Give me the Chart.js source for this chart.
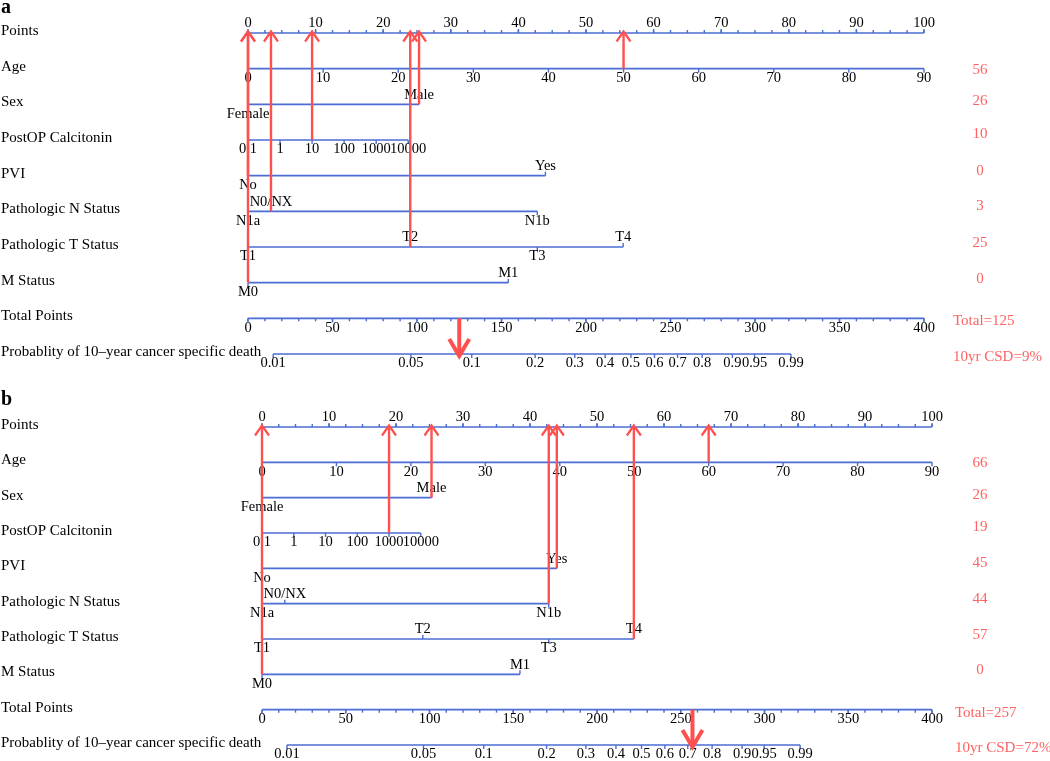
<!DOCTYPE html>
<html>
<head>
<meta charset="utf-8">
<script src="https://cdn.jsdelivr.net/npm/chart.js@4.4.0/dist/chart.umd.min.js"></script>
<style>
  body { margin: 0; background: #fff; }
  #wrap { position: relative; width: 1050px; height: 761px; }
  canvas { position: absolute; left: 0; }
</style>
</head>
<body>
<div id="wrap">
  <canvas id="chartA" width="1050" height="390" style="top:0"></canvas>
  <canvas id="chartB" width="1050" height="371" style="top:390px"></canvas>
</div>
<script>
// ---- nomogram scales ----
const rowNames = ['Points', 'Age', 'Sex', 'PostOP Calcitonin', 'PVI', 'Pathologic N Status',
  'Pathologic T Status', 'M Status', 'Total Points', 'Probablity of 10\u2013year cancer specific death'];

const pointTicks = [0, 10, 20, 30, 40, 50, 60, 70, 80, 90, 100];
const ageTicks = [0, 10, 20, 30, 40, 50, 60, 70, 80, 90];
const sexLevels = ['Female', 'Male'];
const sexPoints = [0, 25.3];
const calcTicks = [0.1, 1, 10, 100, 1000, 10000];
const calcTickLabels = ['0.1', '1', '10', '100', '1000', '10000'];
const calcPointsPerDecade = 4.74;
const pviLevels = ['No', 'Yes'];
const pviPoints = [0, 44];
const nLevels = ['N1a', 'N0/NX', 'N1b'];
const nPoints = [0, 3.4, 42.8];
const tLevels = ['T1', 'T2', 'T3', 'T4'];
const tPoints = [0, 24, 42.8, 55.5];
const mLevels = ['M0', 'M1'];
const mPoints = [0, 38.5];
const totalTicks = [0, 50, 100, 150, 200, 250, 300, 350, 400];
const probTicks = [0.01, 0.05, 0.1, 0.2, 0.3, 0.4, 0.5, 0.6, 0.7, 0.8, 0.9, 0.95, 0.99];
const probTickLabels = ['0.01', '0.05', '0.1', '0.2', '0.3', '0.4', '0.5', '0.6', '0.7', '0.8', '0.9', '0.95', '0.99'];
const probTotalAtFirst = 14.9;   // total points where prob = 0.01
const probPointsPerUnit = 50;    // total points per cloglog unit

// ---- the two example patients ----
const caseAValues = [50, 'Male', 10, 'No', 'N0/NX', 'T2', 'M0'];
const caseAScores = ['56', '26', '10', '0', '3', '25', '0'];
const caseATotal = 125;
const caseALabels = ['Total=125', '10yr CSD=9%'];

const caseBValues = [60, 'Male', 1000, 'Yes', 'N1b', 'T4', 'M0'];
const caseBScores = ['66', '26', '19', '45', '44', '57', '0'];
const caseBTotal = 257;
const caseBLabels = ['Total=257', '10yr CSD=72%'];

// label sides for the categorical rows
const sexSides = ['below', 'above'];
const pviSides = ['below', 'above'];
const nSides = ['below', 'above', 'below'];
const tSides = ['below', 'above', 'below', 'above'];
const mSides = ['below', 'above'];

const BLUE = '#4a6cd4';
const RED = '#ff5050';
const RED_TEXT = '#ff6262';
const FONT = '"Liberation Serif", "DejaVu Serif", serif';

function calcPts(v) { return (Math.log10(v) - Math.log10(calcTicks[0])) * calcPointsPerDecade; }
function cll(p) { return Math.log(-Math.log(1 - p)); }
function probTotal(p) { return probTotalAtFirst + probPointsPerUnit * (cll(p) - cll(probTicks[0])); }
function levelPts(levels, pts, name) { return pts[levels.indexOf(name)]; }

function steps(from, to, by) {
  const out = [];
  for (let v = from; v <= to + 1e-9; v += by) out.push(v);
  return out;
}

function levelTicks(levels, pts, sides) {
  return levels.map((l, i) => ({ v: pts[i], label: l, side: sides[i] }));
}

function buildRows() {
  return [
    { axis: 'x', ticks: pointTicks.map(v => ({ v, label: String(v), side: 'above' })), minor: steps(0, 100, 2.5), minorSide: 'above' },
    { axis: 'xAge', ticks: ageTicks.map(v => ({ v, label: String(v), side: 'below' })) },
    { axis: 'x', ticks: levelTicks(sexLevels, sexPoints, sexSides) },
    { axis: 'x', ticks: calcTicks.map((v, i) => ({ v: calcPts(v), label: calcTickLabels[i], side: 'below' })) },
    { axis: 'x', ticks: levelTicks(pviLevels, pviPoints, pviSides) },
    { axis: 'x', ticks: levelTicks(nLevels, nPoints, nSides) },
    { axis: 'x', ticks: levelTicks(tLevels, tPoints, tSides) },
    { axis: 'x', ticks: levelTicks(mLevels, mPoints, mSides) },
    { axis: 'xTot', ticks: totalTicks.map(v => ({ v, label: String(v), side: 'below' })), minor: steps(0, 400, 10), minorSide: 'below' },
    { axis: 'xTot', ticks: probTicks.map((p, i) => ({ v: probTotal(p), label: probTickLabels[i], side: 'below' })) }
  ];
}

function rowDatasets(rows) {
  return rows.map((r, i) => {
    const vs = r.ticks.map(t => t.v);
    return {
      data: [{ x: Math.min(...vs), y: i }, { x: Math.max(...vs), y: i }],
      xAxisID: r.axis,
      borderColor: BLUE,
      borderWidth: 1.6,
      showLine: true, pointRadius: 0, clip: false, borderCapStyle: 'butt'
    };
  });
}

function arrowDatasets(vals, total) {
  const picks = [
    { axis: 'xAge', v: vals[0] },
    { axis: 'x', v: levelPts(sexLevels, sexPoints, vals[1]) },
    { axis: 'x', v: calcPts(vals[2]) },
    { axis: 'x', v: levelPts(pviLevels, pviPoints, vals[3]) },
    { axis: 'x', v: levelPts(nLevels, nPoints, vals[4]) },
    { axis: 'x', v: levelPts(tLevels, tPoints, vals[5]) },
    { axis: 'x', v: levelPts(mLevels, mPoints, vals[6]) }
  ];
  const list = picks.map((p, i) => ({
    data: [{ x: p.v, y: i + 1 }, { x: p.v, y: 0 }],
    xAxisID: p.axis,
    borderColor: RED, borderWidth: 2.4,
    showLine: true, pointRadius: 0, clip: false, borderCapStyle: 'butt',
    arrow: 'small'
  }));
  list.push({
    data: [{ x: total, y: 8 }, { x: total, y: 9 }],
    xAxisID: 'xTot',
    borderColor: RED, borderWidth: 4,
    showLine: true, pointRadius: 0, clip: false, borderCapStyle: 'butt',
    arrow: 'big'
  });
  return list;
}

// offsets of the red score column relative to each row
const scoreOffsets = [1, -3, -6, -5, -5, -4, -4];

function nomogramPlugin(cfg, rows) {
  return {
    id: 'nomogram',
    beforeDatasetsDraw(chart) {
      const ctx = chart.ctx;
      const ys = chart.scales.y;
      ctx.save();
      ctx.fillStyle = '#000';
      ctx.font = 'bold 20px ' + FONT;
      ctx.textAlign = 'left';
      ctx.textBaseline = 'alphabetic';
      ctx.fillText(cfg.letter, 1, cfg.letterY);

      ctx.font = '15px ' + FONT;
      ctx.textBaseline = 'middle';
      rowNames.forEach((name, i) => ctx.fillText(name, 1, ys.getPixelForValue(i) - 2));

      ctx.strokeStyle = BLUE;
      ctx.lineWidth = 1.4;
      ctx.textAlign = 'center';
      ctx.font = '14.5px ' + FONT;
      rows.forEach((r, i) => {
        const sc = chart.scales[r.axis];
        const y = ys.getPixelForValue(i);
        (r.minor || []).forEach(v => {
          const x = sc.getPixelForValue(v);
          const d = r.minorSide === 'above' ? -3 : 3;
          ctx.beginPath(); ctx.moveTo(x, y); ctx.lineTo(x, y + d); ctx.stroke();
        });
        r.ticks.forEach(t => {
          const x = sc.getPixelForValue(t.v);
          const d = t.side === 'above' ? -1 : 1;
          ctx.beginPath(); ctx.moveTo(x, y); ctx.lineTo(x, y + d * 4); ctx.stroke();
          ctx.fillText(t.label, x, y + d * 9.5);
        });
      });
      ctx.restore();
    },
    afterDatasetsDraw(chart) {
      const ctx = chart.ctx;
      const ys = chart.scales.y;
      ctx.save();
      ctx.strokeStyle = RED;
      ctx.lineJoin = 'miter';
      chart.data.datasets.forEach((ds, i) => {
        if (!ds.arrow) return;
        const pts = chart.getDatasetMeta(i).data;
        const a = pts[0], b = pts[1];
        const dir = b.y > a.y ? 1 : -1;
        const s = ds.arrow === 'big' ? { w: 10, h: 17, lw: 4, off: 2 } : { w: 7, h: 10, lw: 2.2, off: 1.5 };
        const tipY = b.y + dir * s.off;
        ctx.lineWidth = s.lw;
        ctx.beginPath();
        ctx.moveTo(b.x - s.w, tipY - dir * s.h);
        ctx.lineTo(b.x, tipY);
        ctx.lineTo(b.x + s.w, tipY - dir * s.h);
        ctx.stroke();
      });

      ctx.fillStyle = RED_TEXT;
      ctx.font = '15px ' + FONT;
      ctx.textBaseline = 'middle';
      ctx.textAlign = 'center';
      cfg.scores.forEach((s, i) => ctx.fillText(s, 980, ys.getPixelForValue(i + 1) + scoreOffsets[i]));
      ctx.textAlign = 'left';
      ctx.fillText(cfg.labels[0], cfg.labelX, ys.getPixelForValue(8) + 3);
      ctx.fillText(cfg.labels[1], cfg.labelX, ys.getPixelForValue(9) + 3);
      ctx.restore();
    }
  };
}

function makeChart(id, vals, total, cfg, pad) {
  const rows = buildRows();
  return new Chart(document.getElementById(id), {
    type: 'scatter',
    data: { datasets: [...arrowDatasets(vals, total), ...rowDatasets(rows)] },
    options: {
      responsive: false,
      animation: false,
      events: [],
      layout: { padding: pad },
      plugins: { legend: { display: false }, tooltip: { enabled: false } },
      scales: {
        x: { type: 'linear', min: 0, max: 100, display: false },
        xAge: { type: 'linear', axis: 'x', position: 'bottom', min: 0, max: 90, display: false },
        xTot: { type: 'linear', axis: 'x', position: 'bottom', min: 0, max: 400, display: false },
        y: { type: 'linear', min: 0, max: 9, reverse: true, display: false }
      }
    },
    plugins: [nomogramPlugin(cfg, rows)]
  });
}

makeChart('chartA', caseAValues, caseATotal,
  { letter: 'a', letterY: 13, scores: caseAScores, labels: caseALabels, labelX: 953 },
  { left: 248, right: 126, top: 33, bottom: 36 });

makeChart('chartB', caseBValues, caseBTotal,
  { letter: 'b', letterY: 15, scores: caseBScores, labels: caseBLabels, labelX: 955 },
  { left: 262, right: 118, top: 37, bottom: 16 });
</script>
</body>
</html>
